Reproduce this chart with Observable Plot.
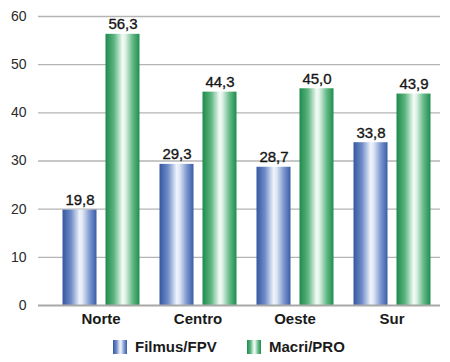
<!DOCTYPE html>
<html>
<head>
<meta charset="utf-8">
<script src="https://cdn.jsdelivr.net/npm/d3@7"></script>
<script src="https://cdn.jsdelivr.net/npm/@observablehq/plot@0.6"></script>
<style>
  body { margin: 0; background: #fff; font-family: "Liberation Sans", Arial, Helvetica, sans-serif; }
  #wrap { position: relative; width: 450px; height: 362px; overflow: hidden; }
  #legend { position: absolute; left: 0; top: 332px; width: 450px; height: 30px; }
  .item { position: absolute; top: 6px; display: flex; align-items: center; font-weight: bold; font-size: 15px; color: #1a1a1a; }
  .item svg { margin-right: 8px; }
</style>
</head>
<body>
<svg width="0" height="0" style="position:absolute">
  <defs>
    <linearGradient id="gBlue" x1="0" x2="1" y1="0" y2="0">
      <stop offset="0" stop-color="#3556a2"/>
      <stop offset="0.25" stop-color="#6f8cc8"/>
      <stop offset="0.5" stop-color="#eef2fa"/>
      <stop offset="0.58" stop-color="#e4eaf6"/>
      <stop offset="0.8" stop-color="#7d98cf"/>
      <stop offset="1" stop-color="#3a5ca7"/>
    </linearGradient>
    <linearGradient id="gGreen" x1="0" x2="1" y1="0" y2="0">
      <stop offset="0" stop-color="#1e8a4c"/>
      <stop offset="0.25" stop-color="#5bb57f"/>
      <stop offset="0.5" stop-color="#f2faf5"/>
      <stop offset="0.58" stop-color="#e2f3e8"/>
      <stop offset="0.8" stop-color="#62b986"/>
      <stop offset="1" stop-color="#208d4e"/>
    </linearGradient>
  </defs>
</svg>
<div id="wrap">
  <div id="chart"></div>
  <div id="legend"></div>
</div>
<script>
const categories = ["Norte", "Centro", "Oeste", "Sur"];
const series = ["Filmus/FPV", "Macri/PRO"];
const filmus = [19.8, 29.3, 28.7, 33.8];
const macri = [56.3, 44.3, 45.0, 43.9];
const yTicks = [0, 10, 20, 30, 40, 50, 60];

const fills = {"Filmus/FPV": "url(#gBlue)", "Macri/PRO": "url(#gGreen)"};
const data = [];
categories.forEach((c, i) => {
  data.push({cat: c, serie: series[0], v: filmus[i]});
  data.push({cat: c, serie: series[1], v: macri[i]});
});
const fmt = v => v.toFixed(1).replace(".", ",");
const A = data.filter(d => d.serie === series[0]);
const B = data.filter(d => d.serie === series[1]);

const font = '"Liberation Sans", Arial, Helvetica, sans-serif';

const chart = Plot.plot({
  width: 450,
  height: 332,
  marginLeft: 38,
  marginRight: 10,
  marginTop: 16,
  marginBottom: 27,
  style: {fontFamily: font, background: "#fff", overflow: "visible"},
  x: {domain: categories, range: [51.5, 439.5], padding: 0},
  y: {domain: [0, 60], range: [305, 16]},
  marks: [
    Plot.ruleY(yTicks.filter(t => t > 0), {stroke: "#b4b4b4", strokeWidth: 1.4}),
    Plot.barY(A, {x: "cat", y: "v", fill: fills[series[0]], insetLeft: 10.5, insetRight: 52.5}),
    Plot.barY(B, {x: "cat", y: "v", fill: fills[series[1]], insetLeft: 53.5, insetRight: 9.5}),
    Plot.ruleY([0], {stroke: "#a8a8a8", strokeWidth: 2}),
    Plot.text(A, {x: "cat", y: "v", text: d => fmt(d.v), dx: -21, dy: -5, lineAnchor: "bottom", fontSize: 15, fill: "#151515", stroke: "#151515", strokeWidth: 0.35}),
    Plot.text(B, {x: "cat", y: "v", text: d => fmt(d.v), dx: 22, dy: -5, lineAnchor: "bottom", fontSize: 15, fill: "#151515", stroke: "#151515", strokeWidth: 0.35}),
    Plot.axisY({ticks: yTicks, tickSize: 0, tickPadding: 12, label: null, fontSize: 14, fill: "#2a2a2a", tickFormat: d => String(d)}),
    Plot.axisX({tickSize: 0, tickPadding: 8, label: null, fontSize: 15, fontWeight: "bold", fill: "#1a1a1a"})
  ]
});
document.getElementById("chart").appendChild(chart);

// legend
const legend = document.getElementById("legend");
const legendX = [113, 247];
series.forEach((s, i) => {
  const item = document.createElement("div");
  item.className = "item";
  item.style.left = legendX[i] + "px";
  item.innerHTML = `<svg width="14" height="14"><rect width="14" height="14" fill="${fills[s]}"/></svg><span>${s}</span>`;
  legend.appendChild(item);
});
</script>
</body>
</html>
